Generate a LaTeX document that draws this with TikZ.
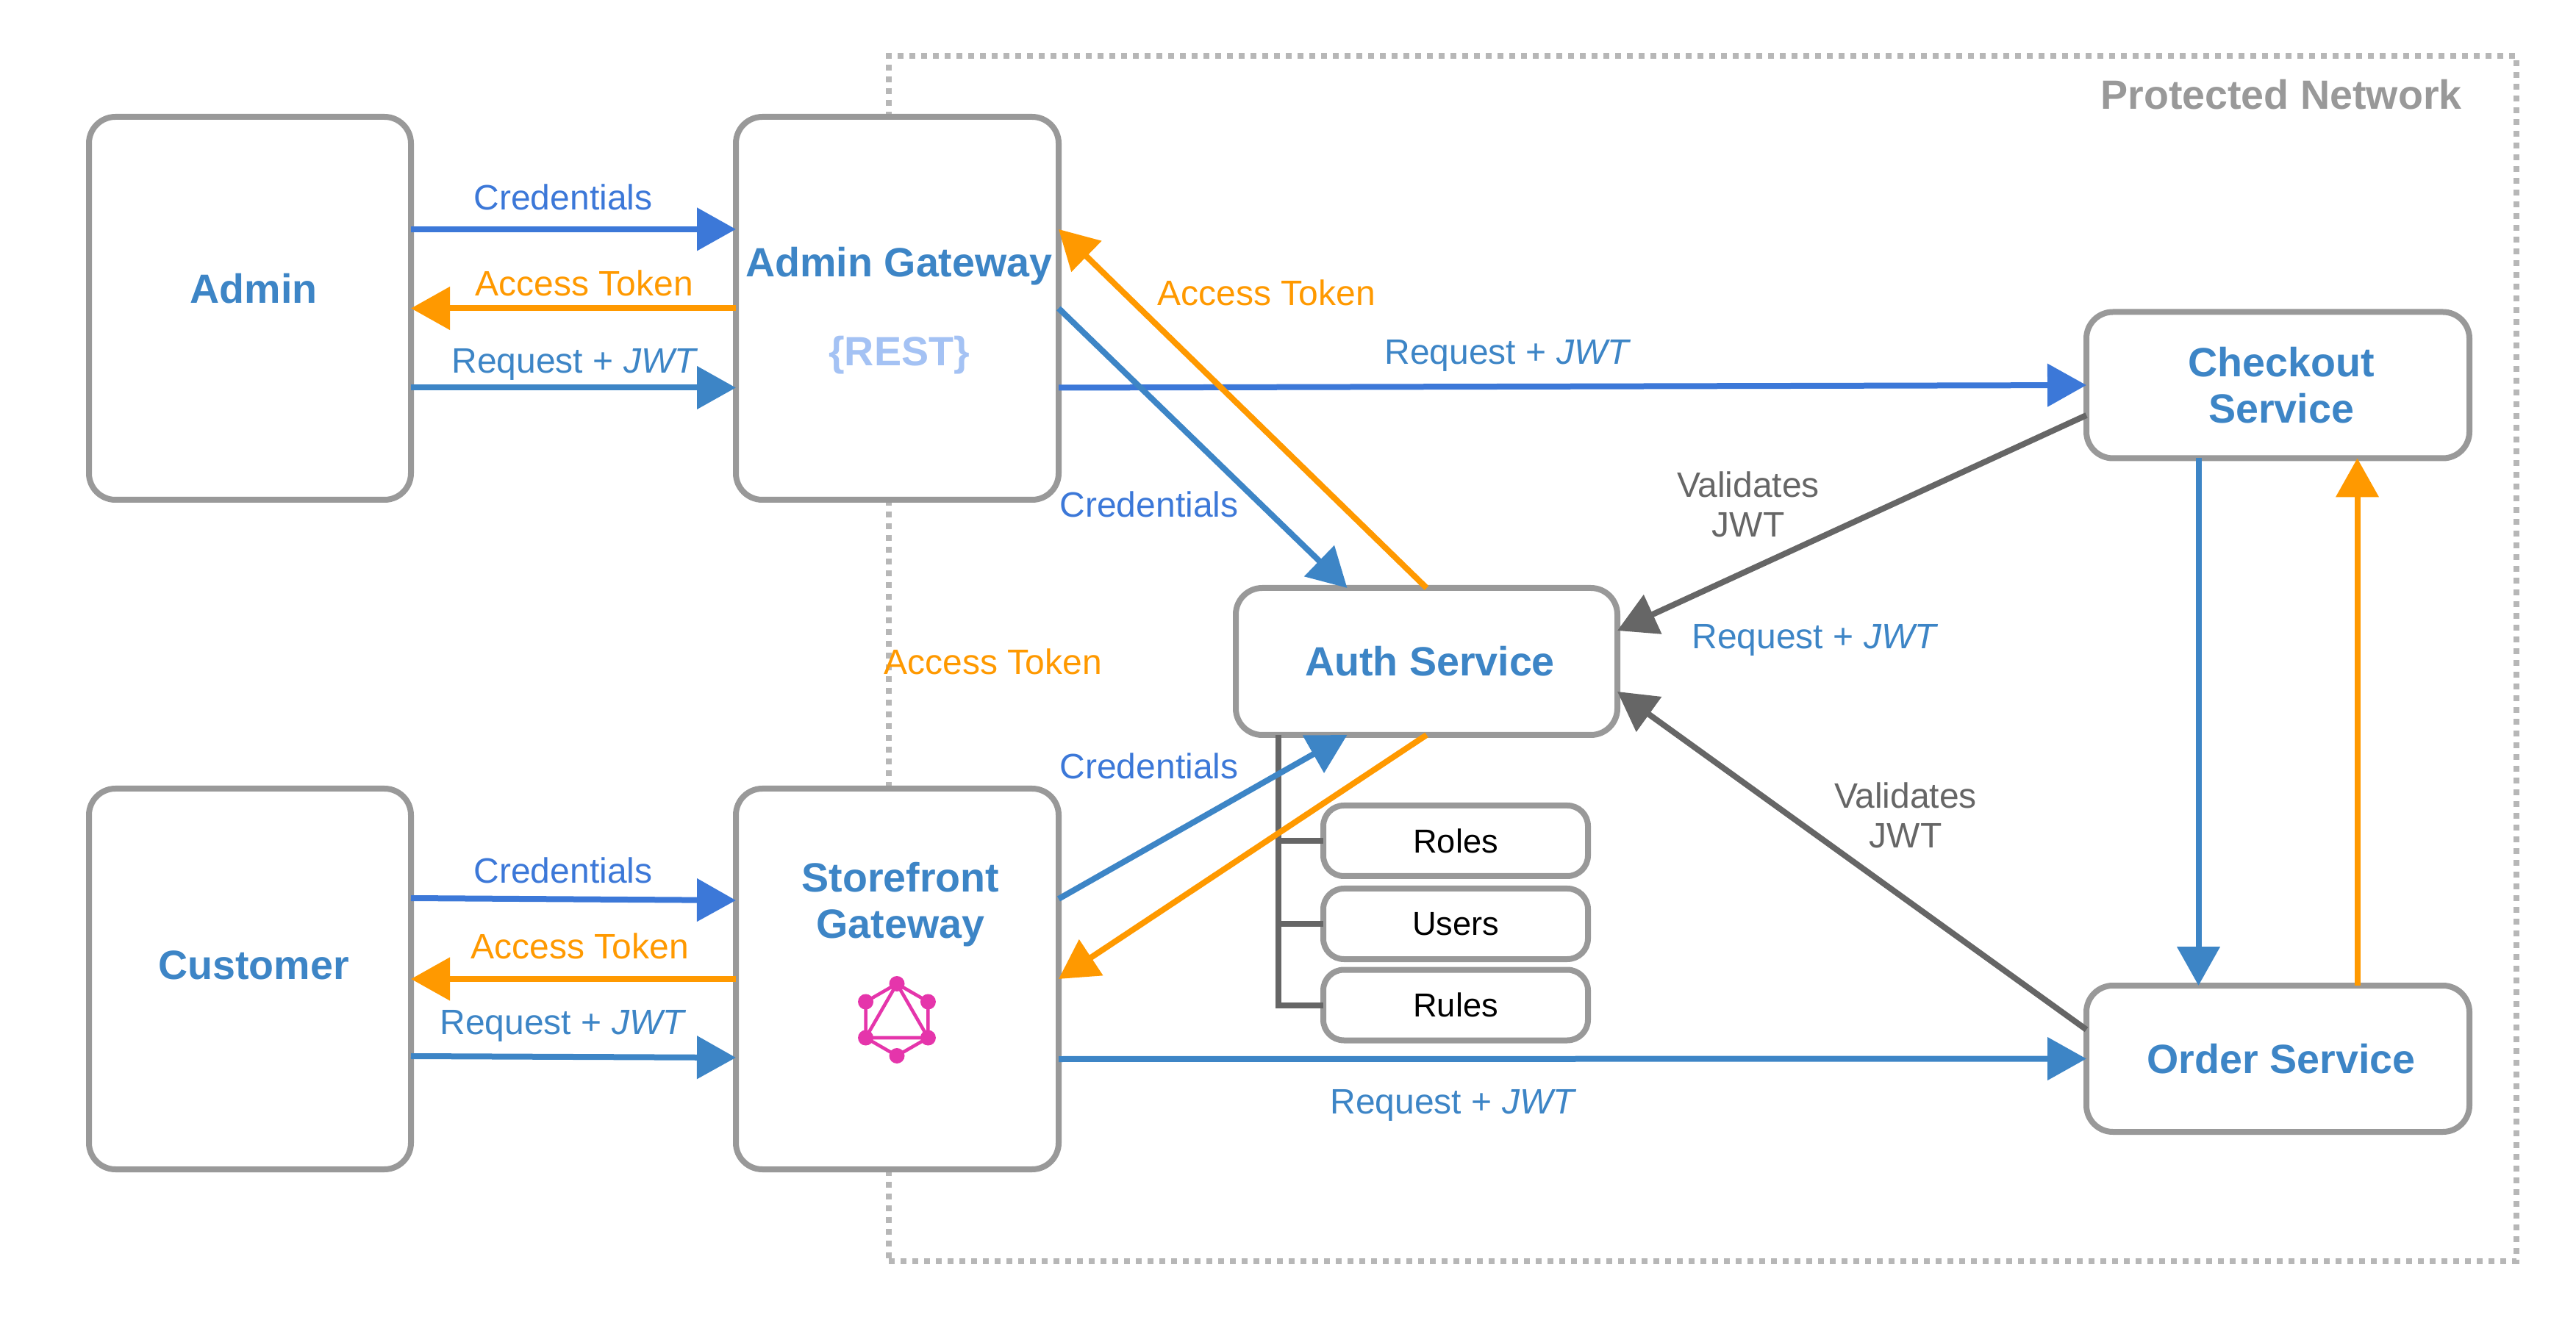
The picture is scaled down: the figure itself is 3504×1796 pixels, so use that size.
\documentclass[tikz,border=0pt]{standalone}
\usepackage{fontspec}
\setmainfont{Liberation Sans}
\usetikzlibrary{arrows.meta}
\definecolor{credblue}{HTML}{3C78D8}
\definecolor{reqblue}{HTML}{3D85C6}
\definecolor{tokenorange}{HTML}{FF9900}
\definecolor{linkgray}{HTML}{666666}
\definecolor{edgegray}{HTML}{999999}
\definecolor{zonegray}{HTML}{B7B7B7}
\definecolor{restblue}{HTML}{A4C2F4}
\definecolor{graphqlpink}{HTML}{E535AB}
\tikzset{
    card/.style={draw=edgegray, line width=2pt, fill=white, rounded corners=9pt, outer sep=0pt, inner sep=0pt},
    store/.style={card, rounded corners=7pt, minimum width=90pt, minimum height=24pt, font=\fontsize{11.3}{13.5}\selectfont},
    title/.style={align=center, inner sep=0pt, text=reqblue, font=\bfseries\fontsize{13.9}{15.7}\selectfont},
    tag/.style={align=center, inner sep=0pt, font=\fontsize{12}{13.5}\selectfont},
    flow/.style={line width=2pt, -{Triangle[length=13.25pt,width=14.25pt]}},
    zone/.style={draw=zonegray, line width=2pt, dash pattern=on 2pt off 2pt, outer sep=0pt, inner sep=0pt},
}

\begin{document}
\begin{tikzpicture}[x=0.25pt, y=-0.25pt]
    \useasboundingbox (0,0) rectangle (3504,1796);

    \node[zone, minimum width=553.5pt, minimum height=410pt] (protected) at (2316,896) {};
    \node[title, text=edgegray] (protectedtext) at (3103,129) {Protected Network};

    \node[card, minimum width=109.5pt, minimum height=130.25pt] (admin) at (340,419.5) {};
    \node[card, minimum width=109.75pt, minimum height=130.25pt] (admingw) at (1220.5,419.5) {};
    \node[card, minimum width=109.5pt, minimum height=129.5pt] (customer) at (340,1332) {};
    \node[card, minimum width=109.75pt, minimum height=129.5pt] (storefront) at (1220.5,1332) {};
    \node[card, minimum width=129.75pt, minimum height=50pt] (auth) at (1940.5,900) {};
    \node[card, minimum width=130.25pt, minimum height=49.75pt] (checkout) at (3098.5,524) {};
    \node[card, minimum width=130.25pt, minimum height=49.75pt] (order) at (3098.5,1440.5) {};

    \node[store] (roles) at (1980,1144) {Roles};
    \node[store] (users) at (1980,1257) {Users};
    \node[store] (rules) at (1980,1367.5) {Rules};

    \node[title] (admintext) at (345,393) {Admin};
    \node[title] (customertext) at (345,1313) {Customer};
    \node[title] (admingwtext) at (1223,362) {Admin Gateway};
    \node[title, text=restblue] (resttext) at (1223,483) {\{REST\}};
    \node[title] (storefronttext) at (1225,1231) {Storefront\\Gateway};
    \node[title] (authtext) at (1945,900) {Auth Service};
    \node[title] (checkouttext) at (3103,524) {Checkout\\Service};
    \node[title] (ordertext) at (3103,1440.5) {Order Service};

    \begin{scope}[shift={(1220,1387.5)}, graphqlpink, line width=1.15pt]
        \draw (90:49) -- (30:49) -- (-30:49) -- (-90:49) -- (-150:49) -- (150:49) -- cycle;
        \draw (-90:49) -- (30:49) -- (150:49) -- cycle;
        \foreach \a in {30,90,...,330}
            \fill (\a:49) circle (10.5);
    \end{scope}

    \draw[linkgray, line width=2pt] ([xshift=14.5pt]auth.south west) |- (roles.west);
    \draw[linkgray, line width=2pt] ([xshift=14.5pt]auth.south west) |- (users.west);
    \draw[linkgray, line width=2pt] ([xshift=14.5pt]auth.south west) |- (rules.west);

    \draw[flow, credblue] ([yshift=26.9pt]admin.east) -- ([yshift=26.9pt]admingw.west);
    \draw[flow, tokenorange] (admingw.west) -- (admin.east);
    \draw[flow, reqblue] ([yshift=-27pt]admin.east) -- ([yshift=-27pt]admingw.west);
    \draw[flow, credblue] ([yshift=27.5pt]customer.east) -- ([yshift=26.75pt]storefront.west);
    \draw[flow, tokenorange] (storefront.west) -- (customer.east);
    \draw[flow, reqblue] ([yshift=-26.25pt]customer.east) -- ([yshift=-26.75pt]storefront.west);

    \draw[flow, credblue] ([yshift=-27pt]admingw.east) -- (checkout.west);
    \draw[flow, reqblue] ([yshift=-27.25pt]storefront.east) -- (order.west);
    \draw[flow, reqblue] (admingw.east) -- ([xshift=-27pt]auth.north);
    \draw[flow, tokenorange] (auth.north) -- ([yshift=26.9pt]admingw.east);
    \draw[flow, reqblue] ([yshift=27.25pt]storefront.east) -- ([xshift=-27pt]auth.south);
    \draw[flow, tokenorange] (auth.south) -- (storefront.east);

    \draw[flow, linkgray] ([yshift=-10.25pt]checkout.west) -- ([yshift=10.5pt]auth.east);
    \draw[flow, linkgray] ([yshift=9.9pt]order.west) -- ([yshift=-10.25pt]auth.east);
    \draw[flow, reqblue] ([xshift=-27pt]checkout.south) -- ([xshift=-27pt]order.north);
    \draw[flow, tokenorange] ([xshift=27pt]order.north) -- ([xshift=27pt]checkout.south);

    \node[tag, text=credblue] (credadmin) at (766,268) {Credentials};
    \node[tag, text=tokenorange] (tokenadmin) at (795,385) {Access Token};
    \node[tag, text=reqblue] (reqadmin) at (782,496) {Request + \textit{JWT}};
    \node[tag, text=credblue] (credcustomer) at (766,1184) {Credentials};
    \node[tag, text=tokenorange] (tokencustomer) at (789,1287) {Access Token};
    \node[tag, text=reqblue] (reqcustomer) at (766,1396) {Request + \textit{JWT}};

    \node[tag, text=reqblue] (reqcheckout) at (2051,484) {Request + \textit{JWT}};
    \node[tag, text=reqblue] (reqorder) at (1977,1504) {Request + \textit{JWT}};
    \node[tag, text=reqblue] (reqauth) at (2469,871) {Request + \textit{JWT}};
    \node[tag, text=credblue] (credgw) at (1563,686) {Credentials};
    \node[tag, text=tokenorange] (tokengw) at (1723,398) {Access Token};
    \node[tag, text=credblue] (credstore) at (1563,1042) {Credentials};
    \node[tag, text=tokenorange] (tokenstore) at (1351,900) {Access Token};
    \node[tag, text=linkgray] (validcheckout) at (2378,686) {Validates\\JWT};
    \node[tag, text=linkgray] (validorder) at (2592,1109) {Validates\\JWT};
\end{tikzpicture}
\end{document}
